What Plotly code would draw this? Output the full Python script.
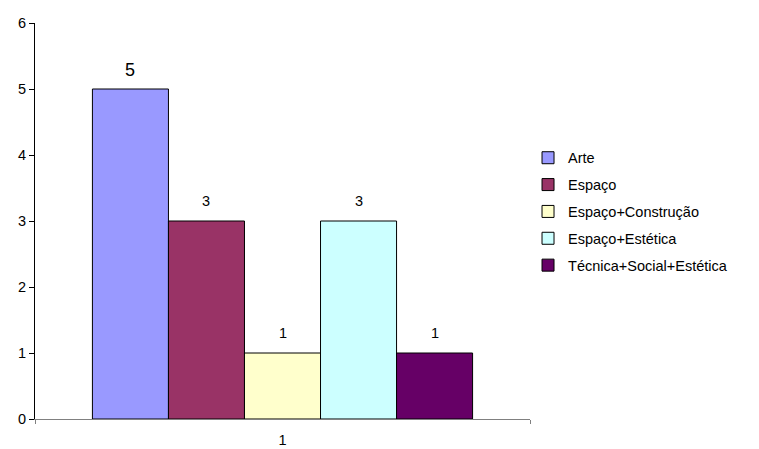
import plotly.graph_objects as go

categories = ["1"]
series_names = ["Arte", "Espaço", "Espaço+Construção", "Espaço+Estética", "Técnica+Social+Estética"]
series_values = [5, 3, 1, 3, 1]
series_colors = ["#9999FF", "#993366", "#FFFFCC", "#CCFFFF", "#660066"]
label_sizes = [18, 14.5, 14.5, 14.5, 14.5]
y_ticks = [0, 1, 2, 3, 4, 5, 6]

FONT = "Liberation Sans, Arial, sans-serif"
BARGAP = 0.232

fig = go.Figure()
n = len(series_names)
for i, (name, val, col) in enumerate(zip(series_names, series_values, series_colors)):
    fig.add_trace(go.Bar(
        x=categories, y=[val], name=name, legendgroup=name,
        marker=dict(color=col, line=dict(color="black", width=1)),
    ))
    w = (1 - BARGAP) / n
    xc = -0.5 * (1 - BARGAP) + (i + 0.5) * w
    fig.add_annotation(
        x=xc, y=val, xref="x", yref="y", text=str(val), showarrow=False,
        yanchor="bottom", yshift=10 if label_sizes[i] < 18 else 7,
        font=dict(family=FONT, size=label_sizes[i], color="black"),
    )

fig.update_layout(
    width=759, height=449,
    margin=dict(l=35, r=229, t=23, b=30),
    plot_bgcolor="white", paper_bgcolor="white",
    barmode="group", bargap=BARGAP, bargroupgap=0,
    font=dict(family=FONT, size=14.5, color="black"),
    showlegend=True,
    legend=dict(
        x=0.996, xanchor="left", y=0.70, yanchor="top",
        font=dict(family=FONT, size=14.5, color="black"),
        tracegroupgap=5, bgcolor="rgba(0,0,0,0)",
    ),
    xaxis=dict(
        type="category", showgrid=False, showline=True, linecolor="#808080", linewidth=1,
        ticks="outside", tickson="boundaries", ticklen=4, tickcolor="#808080",
        ticklabelstandoff=8, tickfont=dict(size=14.5), automargin=False,
    ),
    yaxis=dict(
        range=[0, 6], tickvals=y_ticks, showgrid=False, showline=True, linecolor="black",
        linewidth=1, ticks="outside", ticklen=5, tickcolor="black", zeroline=False,
        tickfont=dict(size=14.5), automargin=False,
    ),
)

fig.write_html("out.html")
